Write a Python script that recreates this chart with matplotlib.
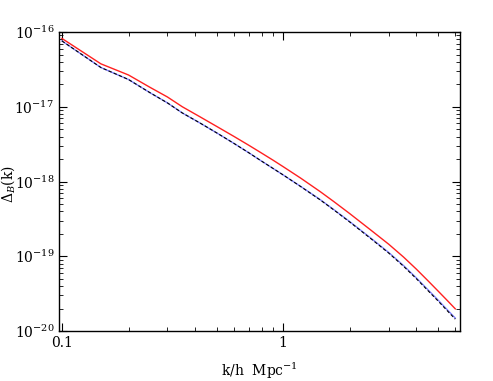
import numpy as np
import matplotlib
matplotlib.use("Agg")
import matplotlib.pyplot as plt
from matplotlib.ticker import FixedLocator, LogLocator, NullFormatter, FixedFormatter

k = [0.1, 0.15, 0.2, 0.25, 0.3, 0.35, 0.42, 0.5, 0.6, 0.7, 0.79, 0.9, 1.0, 1.2,
     1.47, 1.69, 2.0, 2.5, 3.0, 3.5, 4.0, 4.5, 5.0, 5.5, 6.0]
red = [8.2e-17, 3.75e-17, 2.66e-17, 1.82e-17, 1.35e-17, 1.0e-17, 7.36e-18, 5.47e-18,
       4.0e-18, 3.05e-18, 2.45e-18, 1.93e-18, 1.58e-18, 1.11e-18,
       7.33e-19, 5.42e-19, 3.72e-19, 2.22e-19, 1.45e-19, 9.77e-20, 6.73e-20, 4.75e-20,
       3.46e-20, 2.59e-20, 1.98e-20]
ratio_blue = [1.08, 1.12, 1.15, 1.18, 1.2, 1.21, 1.21, 1.22, 1.24, 1.26, 1.28, 1.29, 1.29,
              1.29, 1.28, 1.28, 1.28, 1.28, 1.29, 1.3, 1.31, 1.32, 1.32, 1.33, 1.33]
ratio_black = [1.0, 1.0, 1.0, 1.0, 1.0, 1.0, 1.0, 1.0, 1.0, 1.0, 1.0, 1.0, 1.0, 0.995,
               0.992, 0.99, 0.988, 0.984, 0.982, 0.979, 0.976, 0.974, 0.972, 0.97, 0.968]

blue = [r / q for r, q in zip(red, ratio_blue)]
black = [b * q for b, q in zip(blue, ratio_black)]

plt.rcParams['font.family'] = ['DejaVu Serif']
plt.rcParams['mathtext.fontset'] = 'dejavuserif'

fig = plt.figure(figsize=(4.93, 3.81), dpi=100)
ax = fig.add_axes([0.1197, 0.1312, 0.8133, 0.7848])

ax.plot(k, red, color='#ff2020', lw=1.0, ls='-')
ax.plot(k, blue, color='#8080ff', lw=1.0, ls='-')
ax.plot(k, black, color='black', lw=0.8, ls=(0, (3, 2)))

ax.set_xscale('log')
ax.set_yscale('log')
ax.set_xlim(0.097, 6.3)
ax.set_ylim(1e-20, 1e-16)

ax.xaxis.set_major_locator(FixedLocator([0.1, 1]))
ax.xaxis.set_major_formatter(FixedFormatter(['0.1', '1']))
ax.xaxis.set_minor_locator(LogLocator(base=10, subs=np.arange(2, 10)))
ax.xaxis.set_minor_formatter(NullFormatter())
ax.yaxis.set_major_locator(LogLocator(base=10, numticks=10))
ax.yaxis.set_minor_locator(LogLocator(base=10, subs=np.arange(2, 10), numticks=10))
ax.yaxis.set_minor_formatter(NullFormatter())

ax.tick_params(which='both', direction='in', top=True, right=True, labelsize=10)
ax.tick_params(which='major', length=6, width=0.8)
ax.tick_params(which='minor', length=3, width=0.6)
for s in ax.spines.values():
    s.set_linewidth(1.0)

ax.set_xlabel(r'k/h  Mpc$^{-1}$', fontsize=10, labelpad=8)
ax.set_ylabel(r'$\Delta_{B}$(k)', fontsize=10)
ax.yaxis.set_label_coords(-0.105, 0.49)

fig.savefig('out.png', dpi=100)
